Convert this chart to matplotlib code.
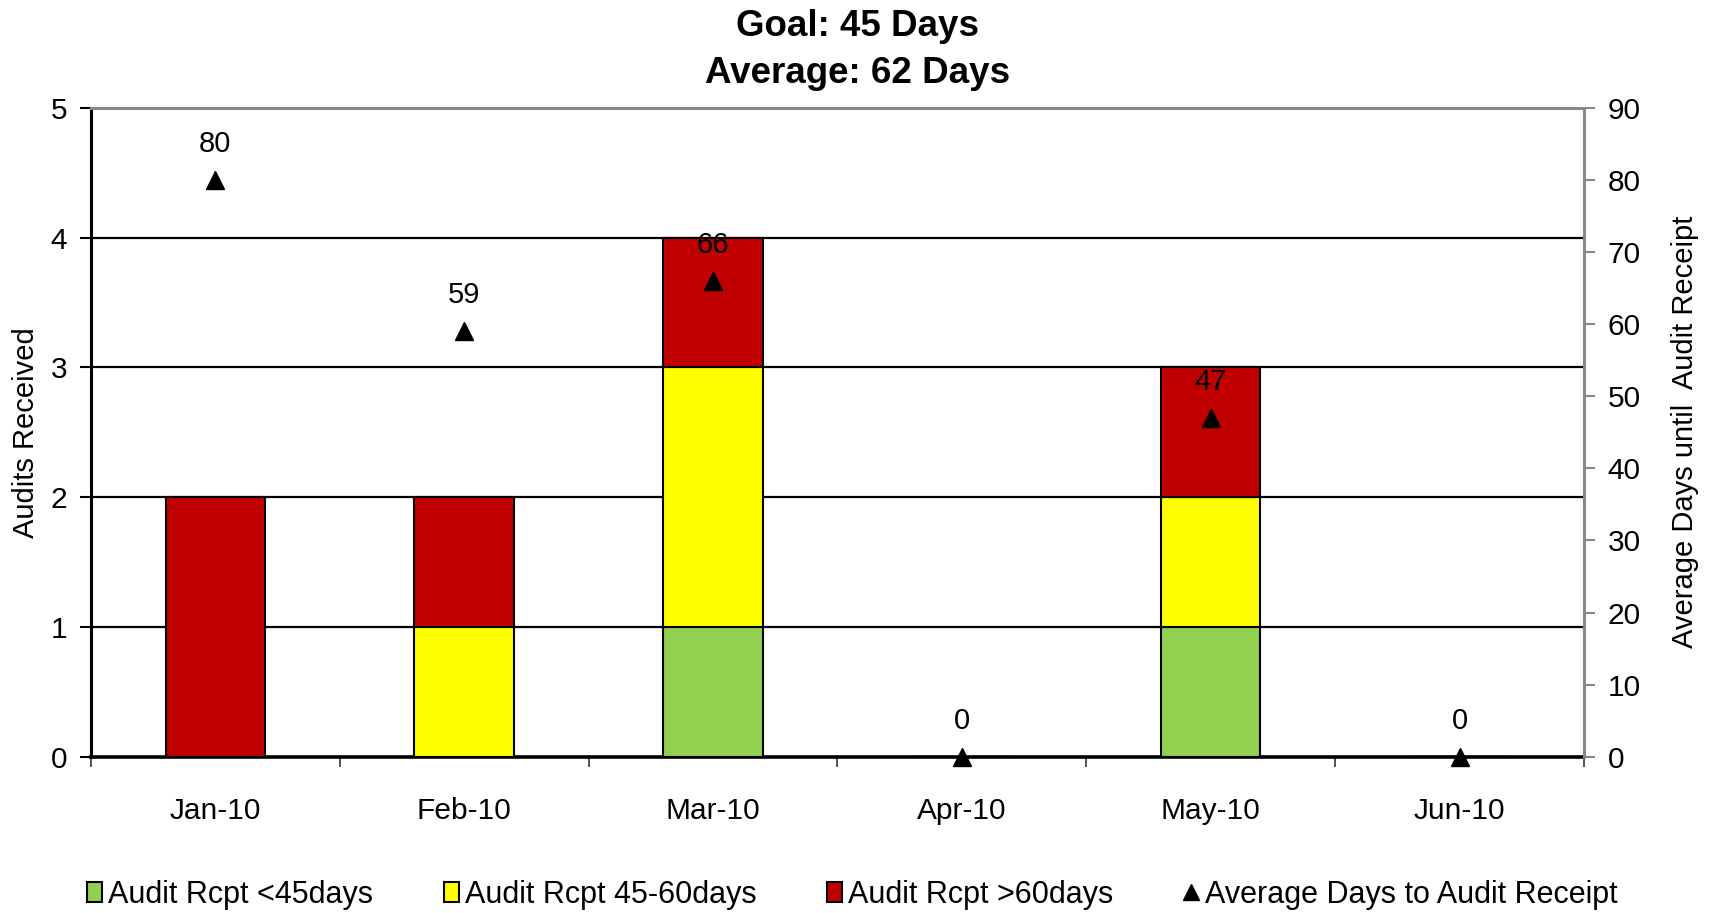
import matplotlib
matplotlib.use('Agg')
import matplotlib.pyplot as plt
from matplotlib.patches import Patch
from matplotlib.lines import Line2D

plt.rcParams['font.family'] = ['Liberation Sans', 'DejaVu Sans']

# data
months = ['Jan-10', 'Feb-10', 'Mar-10', 'Apr-10', 'May-10', 'Jun-10']
under_45 = [0, 0, 1, 0, 1, 0]
days_45_60 = [0, 1, 2, 0, 1, 0]
over_60 = [2, 1, 1, 0, 1, 0]
avg_days = [80, 59, 66, 0, 47, 0]

green = '#92D050'
yellow = '#FFFF00'
red = '#C00000'

fig = plt.figure(figsize=(17.15, 9.13), dpi=100)
ax = fig.add_axes([0.053, 0.171, 0.8706, 0.711])
x = list(range(len(months)))

bottom2 = under_45
bottom3 = [a + b for a, b in zip(under_45, days_45_60)]
ax.bar(x, under_45, width=0.4, color=green, edgecolor='black', linewidth=1.5, zorder=3)
ax.bar(x, days_45_60, width=0.4, bottom=bottom2, color=yellow, edgecolor='black', linewidth=1.5, zorder=3)
ax.bar(x, over_60, width=0.4, bottom=bottom3, color=red, edgecolor='black', linewidth=1.5, zorder=3)

ax.set_xlim(-0.5, len(months) - 0.5)
ax.set_ylim(0, 5)
ax.set_yticks([0, 1, 2, 3, 4, 5])
for yv in [1, 2, 3, 4]:
    ax.axhline(yv, color='black', lw=1.6, zorder=1)

# boundary ticks below the axis, month labels centred between them
ax.set_xticks([i - 0.5 for i in range(len(months) + 1)])
ax.set_xticklabels([])
ax.set_xticks(x, minor=True)
ax.set_xticklabels(months, minor=True)
ax.tick_params(axis='x', which='minor', length=0, pad=29, labelsize=21.5)
ax.tick_params(axis='x', which='major', length=7, width=1.3, color='#444444')
ax.tick_params(axis='y', length=8, width=1.5, labelsize=21.5, pad=9)
ax.set_ylabel('Audits Received', fontsize=21, labelpad=8)

ax.spines['left'].set_linewidth(2.2)
ax.spines['bottom'].set_linewidth(2.6)
ax.spines['top'].set_color('#888888')
ax.spines['top'].set_linewidth(2.2)
ax.spines['right'].set_visible(False)

ax2 = ax.twinx()
ax2.set_ylim(0, 90)
ax2.set_yticks(range(0, 91, 10))
ax2.plot(x, avg_days, linestyle='none', marker='^', markersize=13, color='black',
         zorder=5, clip_on=False)
for xi, v in zip(x, avg_days):
    ax2.annotate(str(v), (xi, v), xytext=(0, 26), textcoords='offset points',
                 ha='center', va='center', fontsize=21)
ax2.tick_params(axis='y', length=8, width=1.5, color='#888888', labelsize=21.5, pad=9)
ax2.set_ylabel('Average Days until  Audit Receipt', fontsize=21, labelpad=22)
ax2.spines['right'].set_color('#888888')
ax2.spines['right'].set_linewidth(2.2)
for s in ['left', 'top', 'bottom']:
    ax2.spines[s].set_visible(False)

fig.suptitle('Goal: 45 Days\nAverage: 62 Days', fontsize=26.5, fontweight='bold',
             y=0.99, va='top', linespacing=1.45)

handles = [
    Patch(facecolor=green, edgecolor='black', linewidth=1.5),
    Patch(facecolor=yellow, edgecolor='black', linewidth=1.5),
    Patch(facecolor=red, edgecolor='black', linewidth=1.5),
    Line2D([], [], linestyle='none', marker='^', markersize=11, color='black'),
]
labels = ['Audit Rcpt <45days', 'Audit Rcpt 45-60days', 'Audit Rcpt >60days',
          'Average Days to Audit Receipt']
fig.legend(handles, labels, loc='center', bbox_to_anchor=(0.497, 0.02), ncol=4,
           frameon=False, fontsize=22, handlelength=0.5, handleheight=0.65,
           handletextpad=0.2, columnspacing=2.3)

fig.savefig('out.png', dpi=100)
